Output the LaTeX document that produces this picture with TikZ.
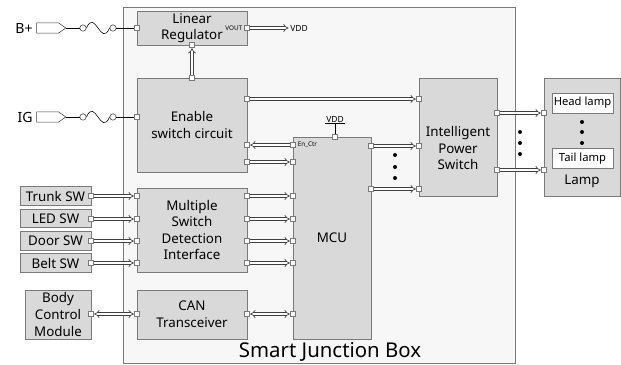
\documentclass[tikz,border=0pt]{standalone}
\usepackage{fontspec}
\setmainfont{Noto Sans}
\usetikzlibrary{positioning, shapes, arrows.meta}

\definecolor{blockfill}{HTML}{D9D9D9}
\definecolor{boxfill}{HTML}{F7F7F7}
\definecolor{edgegray}{HTML}{7A7A7A}

\begin{document}
\begin{tikzpicture}[x=0.025cm, y=-0.025cm,
        block/.style={draw=edgegray, fill=blockfill, line width=0.6pt, align=center, inner sep=1pt,
            font=\fontsize{9.5}{11.8}\selectfont},
        blocktext/.style={align=center, font=\fontsize{9.5}{11.8}\selectfont},
        port/.style={draw=edgegray, fill=white, line width=0.5pt, minimum size=0.14cm, inner sep=0pt},
        bus/.style={draw=black!75, line width=0.45pt, double=white, double distance=1.5pt,
            -{Implies[length=4pt, width=6.5pt]}},
        biport/.style={bus, {Implies[length=4pt, width=6.5pt]}-{Implies[length=4pt, width=6.5pt]}},
        dot/.style={fill=black, circle, inner sep=0pt, minimum size=0.1cm},
        fusepin/.style={draw=black!75, fill=white, circle, inner sep=0pt, minimum size=0.16cm},
        plug/.style={draw=black!75, fill=white, signal, signal to=east, signal pointer angle=70,
            minimum width=0.73cm, minimum height=0.26cm, inner sep=0pt},
        pinlabel/.style={font=\fontsize{4.5}{5}\selectfont, inner sep=1pt},
        vddlabel/.style={font=\bfseries\fontsize{6}{7}\selectfont, inner sep=1pt}]
    \useasboundingbox (0,0) rectangle (621,365);

    % Smart Junction Box
    \node[draw=edgegray, fill=boxfill, line width=0.6pt, minimum width=9.8cm, minimum height=8.9cm, inner sep=0pt] (sjb) at (319,185) {};
    \node[anchor=base, font=\fontsize{14.5}{16}\selectfont] (sjblabel) at (330,358) {Smart Junction Box};

    % Draw the blocks inside the box
    \node[block, minimum width=2.75cm, minimum height=0.85cm] (linreg) at (192,28) {Linear\\Regulator};
    \node[block, minimum width=2.75cm, minimum height=2.35cm] (enable) at (192,125) {Enable\\switch circuit};
    \node[block, minimum width=2.75cm, minimum height=2.1cm] (msdi) at (192,230) {Multiple\\Switch\\Detection\\Interface};
    \node[block, minimum width=2.75cm, minimum height=1.225cm] (can) at (192,314.5) {CAN\\Transceiver};
    \node[block, minimum width=1.95cm, minimum height=5.05cm] (mcu) at (332,238) {MCU};
    \node[block, minimum width=1.95cm, minimum height=2.95cm] (ips) at (458,137) {};
    \node[blocktext] (ipstext) at (458,148) {Intelligent\\Power\\Switch};

    % Draw the lamp block
    \node[block, minimum width=1.9cm, minimum height=2.95cm] (lamp) at (582,137) {};
    \node[blocktext] (lamptext) at (582,181) {Lamp};
    \node[block, fill=white, font=\fontsize{8}{9}\selectfont, minimum width=1.525cm, minimum height=0.5cm] (head) at (582.5,103) {Head lamp};
    \node[block, fill=white, font=\fontsize{8}{9}\selectfont, minimum width=1.525cm, minimum height=0.48cm] (tail) at (582.5,158.5) {Tail lamp};

    % Draw the switches and the body control module
    \node[block, minimum width=1.775cm, minimum height=0.47cm] (trunk) at (55.5,196) {Trunk SW};
    \node[block, minimum width=1.775cm, minimum height=0.47cm] (led) at (55.5,218.5) {LED SW};
    \node[block, minimum width=1.775cm, minimum height=0.47cm] (door) at (55.5,241) {Door SW};
    \node[block, minimum width=1.775cm, minimum height=0.47cm] (belt) at (55.5,263) {Belt SW};
    \node[block, minimum width=1.65cm, minimum height=1.225cm] (bcm) at (58,314.5) {Body\\Control\\Module};

    % Draw the supply inputs
    \node[plug] (bplug) at (47.5,28) {};
    \node[left=0.05cm of bplug, font=\fontsize{10}{11}\selectfont, inner sep=1pt] (bplus) {B+};
    \node[fusepin] (bf1) at (83,28) {};
    \node[fusepin] (bf2) at (113,28) {};
    \node[plug] (igplug) at (47.5,117) {};
    \node[left=0.05cm of igplug, font=\fontsize{10}{11}\selectfont, inner sep=1pt] (ig) {IG};
    \node[fusepin] (igf1) at (83,117) {};
    \node[fusepin] (igf2) at (113,117) {};

    % Draw the ports
    \node[port] (lrin) at (137,28) {};
    \node[port] (lrout) at (247,28) {};
    \node[port] (lrbot) at (192,45) {};
    \node[port] (entop) at (192,78) {};
    \node[port] (enig) at (137,117) {};
    \node[port] (enips) at (247,99) {};
    \node[port] (enctr) at (247,145) {};
    \node[port] (enmcu) at (247,162) {};

    \node[port] (msl1) at (137,196) {};
    \node[port] (msl2) at (137,219) {};
    \node[port] (msl3) at (137,241) {};
    \node[port] (msl4) at (137,263) {};
    \node[port] (msr1) at (247,196) {};
    \node[port] (msr2) at (247,219) {};
    \node[port] (msr3) at (247,241) {};
    \node[port] (msr4) at (247,263) {};
    \node[port] (canl) at (137,314) {};
    \node[port] (canr) at (247,314) {};

    \node[port] (mcuvdd) at (335,137) {};
    \node[port] (mcuctr) at (293,145) {};
    \node[port] (mcuen) at (293,162) {};
    \node[port] (mcus1) at (293,196) {};
    \node[port] (mcus2) at (293,219) {};
    \node[port] (mcus3) at (293,241) {};
    \node[port] (mcus4) at (293,263) {};
    \node[port] (mcucan) at (293,314) {};
    \node[port] (mcuo1) at (371,146) {};
    \node[port] (mcuo2) at (371,189) {};

    \node[port] (ipsen) at (419,99) {};
    \node[port] (ipsi1) at (419,146) {};
    \node[port] (ipsi2) at (419,189) {};
    \node[port] (ipso1) at (497,113) {};
    \node[port] (ipso2) at (497,170) {};
    \node[port] (lampi1) at (544,113) {};
    \node[port] (lampi2) at (544,170) {};

    \node[port] (trunkp) at (91,196) {};
    \node[port] (ledp) at (91,219) {};
    \node[port] (doorp) at (91,241) {};
    \node[port] (beltp) at (91,263) {};
    \node[port] (bcmp) at (91,314) {};

    % Port labels
    \node[pinlabel, anchor=east] (voutlabel) at (lrout.west) {VOUT};
    \node[pinlabel, anchor=west] (ctrlabel) at (mcuctr.east) {En\_Ctr};
    \node[vddlabel] (vddlr) at (299,28) {VDD};
    \node[vddlabel] (vddmcu) at (335,119) {VDD};
    \draw[line width=0.5pt] (vddmcu.south west) -- (vddmcu.south east);
    \draw[line width=0.5pt] (vddmcu.south) -- (mcuvdd.north);

    % Draw the fuse lines
    \draw (bplug.east) -- (bf1.west);
    \draw (bf1.east) .. controls (95,8) and (101,48) .. (bf2.west);
    \draw (bf2.east) -- (lrin.west);
    \draw (igplug.east) -- (igf1.west);
    \draw (igf1.east) .. controls (95,97) and (101,137) .. (igf2.west);
    \draw (igf2.east) -- (enig.west);

    % Draw the buses
    \draw[bus] (lrout.east) -- (vddlr.west);
    \draw[bus] (entop.north) -- (lrbot.south);
    \draw[bus] (enips.east) -- (ipsen.west);
    \draw[bus] (mcuctr.west) -- (enctr.east);
    \draw[bus] (enmcu.east) -- (mcuen.west);

    \draw[bus] (trunkp.east) -- (msl1.west);
    \draw[bus] (ledp.east) -- (msl2.west);
    \draw[bus] (doorp.east) -- (msl3.west);
    \draw[bus] (beltp.east) -- (msl4.west);
    \draw[bus] (msr1.east) -- (mcus1.west);
    \draw[bus] (msr2.east) -- (mcus2.west);
    \draw[bus] (msr3.east) -- (mcus3.west);
    \draw[bus] (msr4.east) -- (mcus4.west);

    \draw[biport] (bcmp.east) -- (canl.west);
    \draw[biport] (canr.east) -- (mcucan.west);

    \draw[bus] (mcuo1.east) -- (ipsi1.west);
    \draw[bus] (mcuo2.east) -- (ipsi2.west);
    \draw[bus] (ipso1.east) -- (lampi1.west);
    \draw[bus] (ipso2.east) -- (lampi2.west);

    % Draw the dots
    \node[dot] (d1) at (395,155) {};
    \node[dot] (d2) at (395,167) {};
    \node[dot] (d3) at (395,178) {};
    \node[dot] (d4) at (520,132) {};
    \node[dot] (d5) at (520,143) {};
    \node[dot] (d6) at (520,154) {};
    \node[dot] (d7) at (582,122) {};
    \node[dot] (d8) at (582,132) {};
    \node[dot] (d9) at (582,143) {};
\end{tikzpicture}
\end{document}
